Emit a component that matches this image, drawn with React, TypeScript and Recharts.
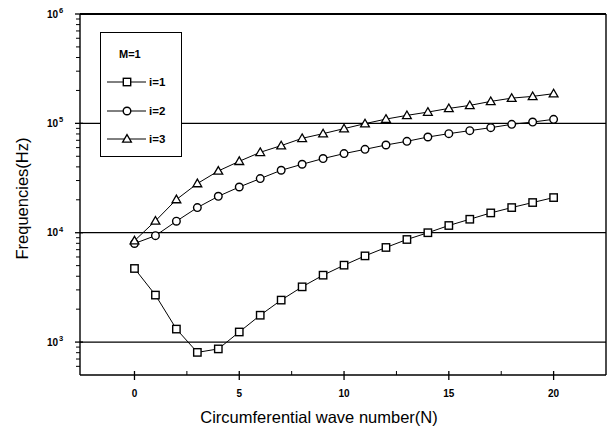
import React from "react";
import {
  LineChart,
  Line,
  XAxis,
  YAxis,
  ReferenceLine,
} from "recharts";

const waveNumbers = [0, 1, 2, 3, 4, 5, 6, 7, 8, 9, 10, 11, 12, 13, 14, 15, 16, 17, 18, 19, 20];
const freqI1 = [4710, 2690, 1315, 805, 866, 1237, 1760, 2420, 3200, 4090, 5050, 6140, 7330, 8670, 10000, 11640, 13280, 15170, 16980, 18880, 20960];
const freqI2 = [7970, 9400, 12740, 16980, 21530, 26190, 31260, 37240, 42260, 47660, 52880, 57880, 63420, 68530, 75000, 80530, 85770, 91330, 97940, 102800, 108900];
const freqI3 = [8450, 12820, 20100, 28150, 36700, 45000, 54340, 62580, 72960, 80530, 89500, 99400, 109400, 118300, 126800, 137000, 145900, 158800, 170100, 176500, 186800];

const xMajorTicks = [0, 5, 10, 15, 20];
const xMinorTicks = [2.5, 7.5, 12.5, 17.5];
const yMajorTicks = [1e3, 1e4, 1e5, 1e6];
const yMinorTicks = [
  600, 700, 800, 900,
  2000, 3000, 4000, 5000, 6000, 7000, 8000, 9000,
  20000, 30000, 40000, 50000, 60000, 70000, 80000, 90000,
  200000, 300000, 400000, 500000, 600000, 700000, 800000, 900000,
];
const gridValues = [1e3, 1e4, 1e5];

const data = waveNumbers.map((n, i) => ({
  n,
  i1: freqI1[i],
  i2: freqI2[i],
  i3: freqI3[i],
}));

const FONT = "'Liberation Sans', Arial, sans-serif";

// markers
const Square = ({ cx, cy }: any) => (
  <rect x={cx - 3.7} y={cy - 3.7} width={7.4} height={7.4} fill="#fff" stroke="#000" strokeWidth={1.4} />
);
const Circle = ({ cx, cy }: any) => (
  <circle cx={cx} cy={cy} r={3.8} fill="#fff" stroke="#000" strokeWidth={1.4} />
);
const Triangle = ({ cx, cy }: any) => (
  <path
    d={`M${cx},${cy - 4.4} L${cx + 4.4},${cy + 3.2} L${cx - 4.4},${cy + 3.2} Z`}
    fill="#fff"
    stroke="#000"
    strokeWidth={1.3}
  />
);

const YTick = ({ x, y, payload }: any) => {
  const v = payload.value;
  const major = yMajorTicks.includes(v);
  if (!major) {
    return <line x1={x - 4} x2={x} y1={y} y2={y} stroke="#000" strokeWidth={1} />;
  }
  const exp = Math.round(Math.log10(v));
  return (
    <g>
      <line x1={x - 5} x2={x + 3} y1={y} y2={y} stroke="#000" strokeWidth={1.3} />
      <text x={x - 22} y={y + 3.5} textAnchor="end" fontFamily={FONT} fontSize={10} fontWeight="bold" fill="#000">
        10
      </text>
      <text x={x - 21} y={y - 1} textAnchor="start" fontFamily={FONT} fontSize={7.5} fontWeight="bold" fill="#000">
        {exp}
      </text>
    </g>
  );
};

const XTick = ({ x, y, payload }: any) => {
  const v = payload.value;
  const major = xMajorTicks.includes(v);
  if (!major) {
    return <line x1={x} x2={x} y1={y - 4} y2={y} stroke="#000" strokeWidth={1} />;
  }
  return (
    <g>
      <line x1={x} x2={x} y1={y - 4} y2={y + 5} stroke="#000" strokeWidth={1.3} />
      <text x={x} y={y + 22} textAnchor="middle" fontFamily={FONT} fontSize={10} fontWeight="bold" fill="#000">
        {v}
      </text>
    </g>
  );
};

const legendRows = [
  { label: "i=1", Marker: Square, y: 49 },
  { label: "i=2", Marker: Circle, y: 78 },
  { label: "i=3", Marker: Triangle, y: 106 },
];

const LegendBox = () => (
  <div
    style={{
      position: "absolute",
      left: 100,
      top: 32,
      width: 82,
      height: 125,
      background: "#fff",
      border: "1.3px solid #000",
      boxSizing: "border-box",
    }}
  >
    <svg width={80} height={123} style={{ display: "block" }}>
      <text x={18} y={25} fontFamily={FONT} fontSize={11} fontWeight="bold" fill="#000">
        M=1
      </text>
      {legendRows.map((r) => (
        <g key={r.label}>
          <line x1={6} x2={45} y1={r.y} y2={r.y} stroke="#000" strokeWidth={1} />
          <r.Marker cx={26} cy={r.y} />
          <text x={48} y={r.y + 4} fontFamily={FONT} fontSize={11.5} fontWeight="bold" fill="#000">
            {r.label}
          </text>
        </g>
      ))}
    </svg>
  </div>
);

export default function App() {
  return (
    <div style={{ position: "relative", width: 615, height: 429, background: "#fff" }}>
      <style>{"body{margin:0;background:#fff}"}</style>
      <LineChart width={615} height={429} data={data} margin={{ top: 14, right: 9, left: 0, bottom: 0 }}>
        <XAxis
          dataKey="n"
          type="number"
          domain={[-2.6, 22.5]}
          ticks={[...xMajorTicks, ...xMinorTicks]}
          tick={<XTick />}
          tickSize={0}
          tickMargin={0}
          tickLine={false}
          interval={0}
          height={54}
          axisLine={{ stroke: "#000", strokeWidth: 1.6 }}
          allowDataOverflow
          label={{
            value: "Circumferential wave number(N)",
            position: "insideBottom",
            offset: 6,
            dx: -24,
            fill: "#000",
            fontFamily: FONT,
            fontSize: 16.5,
          }}
        />
        <YAxis
          type="number"
          scale="log"
          domain={[500, 1e6]}
          ticks={[...yMajorTicks, ...yMinorTicks]}
          tick={<YTick />}
          tickSize={0}
          tickMargin={0}
          tickLine={false}
          interval={0}
          width={80}
          allowDataOverflow
          axisLine={{ stroke: "#000", strokeWidth: 1.4 }}
          label={{
            value: "Frequencies(Hz)",
            angle: -90,
            position: "center",
            dx: -18,
            dy: 4,
            fill: "#000",
            fontFamily: FONT,
            fontSize: 16.5,
          }}
        />
        {gridValues.map((g) => (
          <ReferenceLine key={g} y={g} stroke="#000" strokeWidth={1.3} />
        ))}
        <ReferenceLine y={1e6} stroke="#000" strokeWidth={2} />
        <ReferenceLine x={22.5} stroke="#000" strokeWidth={1.4} />
        <Line
          dataKey="i1"
          type="linear"
          stroke="#000"
          strokeWidth={1}
          isAnimationActive={false}
          dot={(p: any) => <Square key={`s-${p.index}`} cx={p.cx} cy={p.cy} />}
        />
        <Line
          dataKey="i2"
          type="linear"
          stroke="#000"
          strokeWidth={1}
          isAnimationActive={false}
          dot={(p: any) => <Circle key={`c-${p.index}`} cx={p.cx} cy={p.cy} />}
        />
        <Line
          dataKey="i3"
          type="linear"
          stroke="#000"
          strokeWidth={1}
          isAnimationActive={false}
          dot={(p: any) => <Triangle key={`t-${p.index}`} cx={p.cx} cy={p.cy} />}
        />
      </LineChart>
      <LegendBox />
    </div>
  );
}
